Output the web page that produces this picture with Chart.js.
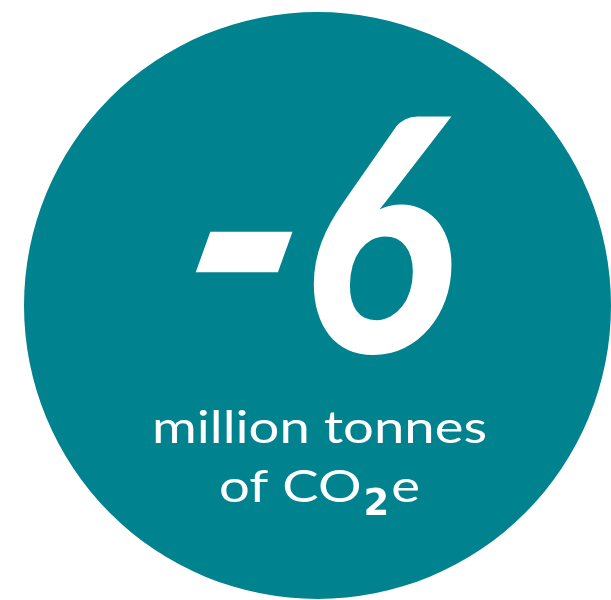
<!DOCTYPE html>
<html><head><meta charset="utf-8">
<script src="https://cdn.jsdelivr.net/npm/chart.js@4"></script>
<style>html,body{margin:0;padding:0;background:#fff;}canvas{display:block;}</style>
</head><body>
<canvas id="c" width="611" height="600"></canvas>
<script>
const categories = ['Change in emissions'];
const seriesValues = [6];
const headlineValues = [-6];
const unitLine1 = ['million tonnes'];
const unitLine2 = ['of CO', '2', 'e'];

const teal = 'rgb(0,131,143)';

function fitText(ctx, text, font, box, k) {
  ctx.save();
  ctx.font = font;
  ctx.textBaseline = 'alphabetic';
  ctx.textAlign = 'left';
  const m = ctx.measureText(text);
  const w = m.actualBoundingBoxLeft + m.actualBoundingBoxRight;
  const h = m.actualBoundingBoxAscent + m.actualBoundingBoxDescent;
  const H = box.y1 - box.y0;
  const sx = (box.x1 - box.x0) / w, sy = H / h;
  ctx.translate(box.x0, box.y0);
  if (k) ctx.transform(1, 0, -k, 1, k * H, 0);
  ctx.scale(sx, sy);
  ctx.fillText(text, m.actualBoundingBoxLeft, m.actualBoundingBoxAscent);
  ctx.restore();
}

const labelPlugin = {
  id: 'labels',
  afterDraw(chart) {
    const ctx = chart.ctx;
    const arc = chart.getDatasetMeta(0).data[0];
    const cx = arc.x, cy = arc.y;
    ctx.save();
    ctx.fillStyle = '#fff';
    const s = String(headlineValues[0]);
    const minus = s.startsWith('-') ? '-' : '';
    const digits = s.replace('-', '');
    if (minus) fitText(ctx, minus, '900 100px Lato', {x0: cx - 124, y0: cy - 74, x1: cx - 40, y1: cy - 31}, 0.36);
    fitText(ctx, digits, 'italic 900 300px Lato', {x0: cx - 8, y0: cy - 192, x1: cx + 135, y1: cy + 52});
    ctx.textBaseline = 'alphabetic';
    ctx.font = '400 44px Lato';
    const w1 = ctx.measureText(unitLine1[0]).width;
    const sc = 335 / w1;
    ctx.save();
    ctx.translate(cx + 2 - 335 / 2, cy + 137);
    ctx.scale(sc, 1);
    ctx.fillText(unitLine1[0], 0, 0);
    ctx.restore();
    const a = ctx.measureText(unitLine2[0]).width;
    const subFont = 'bold 37px "DejaVu Sans"';
    ctx.font = subFont;
    const b = ctx.measureText(unitLine2[1]).width;
    ctx.font = '400 44px Lato';
    const c = ctx.measureText(unitLine2[2]).width;
    const gap = 2;
    const total = (a + c) * sc + b + 2 * gap;
    let x = cx + 2 - total / 2;
    const y = cy + 196.5;
    ctx.save(); ctx.translate(x, y); ctx.scale(sc, 1); ctx.fillText(unitLine2[0], 0, 0); ctx.restore();
    x += a * sc + gap;
    ctx.font = subFont;
    ctx.fillText(unitLine2[1], x, y + 13);
    x += b + gap;
    ctx.font = '400 44px Lato';
    ctx.save(); ctx.translate(x, y); ctx.scale(sc, 1); ctx.fillText(unitLine2[2], 0, 0); ctx.restore();
    ctx.restore();
  }
};

new Chart(document.getElementById('c'), {
  type: 'pie',
  data: {
    labels: categories,
    datasets: [{ data: seriesValues, backgroundColor: [teal], borderWidth: 0, hoverOffset: 0 }]
  },
  options: {
    responsive: false,
    devicePixelRatio: 1,
    animation: false,
    events: [],
    layout: { padding: { left: 24, top: 12, right: 0, bottom: 1 } },
    plugins: { legend: { display: false }, tooltip: { enabled: false } }
  },
  plugins: [labelPlugin]
});
</script>
</body></html>
